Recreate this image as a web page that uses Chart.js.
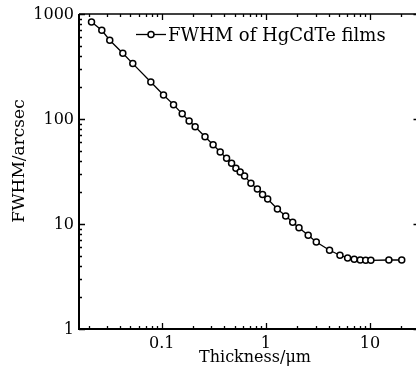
<!DOCTYPE html>
<html>
<head>
<meta charset="utf-8">
<script src="https://cdn.jsdelivr.net/npm/chart.js@4.4.1/dist/chart.umd.min.js"></script>
<style>
html,body{margin:0;padding:0;background:#fff;overflow:hidden;}
</style>
</head>
<body>
<canvas id="c" width="416" height="376"></canvas>
<script>
const thickness = [0.0211,0.0265,0.0316,0.0422,0.0526,0.0784,0.1038,0.1296,0.157,0.183,0.209,0.260,0.311,0.364,0.419,0.468,0.515,0.566,0.624,0.718,0.828,0.929,1.04,1.29,1.55,1.81,2.08,2.55,3.05,4.09,5.15,6.10,7.06,8.07,9.10,10.2,15.2,20.2];
const fwhm = [839,700,562,423,337,225,169,137,112,95.6,84.5,67.8,56.9,48.5,42.2,37.8,33.9,31.3,28.6,24.5,21.5,19.1,17.3,13.9,11.9,10.4,9.22,7.80,6.74,5.62,5.04,4.75,4.61,4.54,4.51,4.51,4.54,4.54];
const xTickLabels = [0.1, 1, 10];
const yTickLabels = [1, 10, 100, 1000];
const seriesName = "FWHM of HgCdTe films";
const xTitle = "Thickness/\u03bcm";
const yTitle = "FWHM/arcsec";

const points = thickness.map((t,i)=>({x:t,y:fwhm[i]}));
const serif = '"DejaVu Serif", serif';

function logTicks(min,max){
  const out=[];
  for(let d=Math.floor(Math.log10(min)); d<=Math.ceil(Math.log10(max)); d++){
    for(let k=1;k<=9;k++){
      const v=k*Math.pow(10,d);
      if(v>=min*0.9999 && v<=max*1.0001) out.push({v:v, major:k===1});
    }
  }
  return out;
}

const framePlugin = {
  id:'frame',
  afterDraw(chart){
    const ctx=chart.ctx, a=chart.chartArea, xs=chart.scales.x, ys=chart.scales.y;
    const R=a.right+3.5;
    ctx.save();
    ctx.strokeStyle='#000';
    ctx.lineWidth=2;
    ctx.beginPath();
    ctx.moveTo(a.left, a.top); ctx.lineTo(a.left, a.bottom); ctx.lineTo(R, a.bottom);
    ctx.stroke();
    ctx.lineWidth=1.5;
    ctx.beginPath();
    ctx.moveTo(a.left, a.top); ctx.lineTo(R, a.top);
    ctx.stroke();
    ctx.lineWidth=1.3;
    ctx.beginPath();
    logTicks(ys.min, ys.max).forEach(t=>{
      const y=Math.round(ys.getPixelForValue(t.v))+0.5;
      const L=t.major?6:3;
      ctx.moveTo(a.left, y); ctx.lineTo(a.left+L, y);
      ctx.moveTo(R, y); ctx.lineTo(R-L, y);
    });
    logTicks(xs.min, xs.max).forEach(t=>{
      const x=Math.round(xs.getPixelForValue(t.v))+0.5;
      const L=t.major?6:3;
      ctx.moveTo(x, a.bottom); ctx.lineTo(x, a.bottom-L);
      ctx.moveTo(x, a.top); ctx.lineTo(x, a.top+L);
    });
    ctx.stroke();
    ctx.fillStyle='#000';
    ctx.font='16px '+serif;
    ctx.textAlign='right'; ctx.textBaseline='middle';
    yTickLabels.forEach(v=>{
      ctx.fillText(String(v), a.left-5, ys.getPixelForValue(v)+1);
    });
    ctx.textAlign='center'; ctx.textBaseline='alphabetic';
    xTickLabels.forEach(v=>{
      ctx.fillText(String(v), xs.getPixelForValue(v), a.bottom+19);
    });
    ctx.font='16px '+serif;
    ctx.fillText(xTitle, 255, 362);
    ctx.save();
    ctx.translate(24, 161);
    ctx.rotate(-Math.PI/2);
    ctx.font='17px '+serif;
    ctx.fillText(yTitle, 0, 0);
    ctx.restore();
    const ly=34;
    ctx.lineWidth=1.3;
    ctx.beginPath(); ctx.moveTo(136, ly+0.5); ctx.lineTo(166, ly+0.5); ctx.stroke();
    ctx.beginPath(); ctx.arc(151, ly+0.5, 3, 0, Math.PI*2);
    ctx.fillStyle='#fff'; ctx.fill(); ctx.lineWidth=1.5; ctx.stroke();
    ctx.fillStyle='#000';
    ctx.font='18px '+serif;
    ctx.textAlign='left'; ctx.textBaseline='alphabetic';
    ctx.fillText(seriesName, 168, 41);
    ctx.restore();
  }
};

new Chart(document.getElementById('c'), {
  type:'line',
  data:{datasets:[{
    label:seriesName,
    data:points,
    borderColor:'#000',
    borderWidth:1.3,
    pointRadius:3,
    pointBorderWidth:1.5,
    pointBackgroundColor:'#fff',
    pointBorderColor:'#000',
    tension:0
  }]},
  options:{
    responsive:false,
    animation:false,
    layout:{autoPadding:false, padding:{left:79, top:14, right:0, bottom:47}},
    plugins:{legend:{display:false}, tooltip:{enabled:false}},
    scales:{
      x:{type:'logarithmic', display:false, min:0.016, max:27.7},
      y:{type:'logarithmic', display:false, min:1, max:1000}
    }
  },
  plugins:[framePlugin]
});
</script>
</body>
</html>
